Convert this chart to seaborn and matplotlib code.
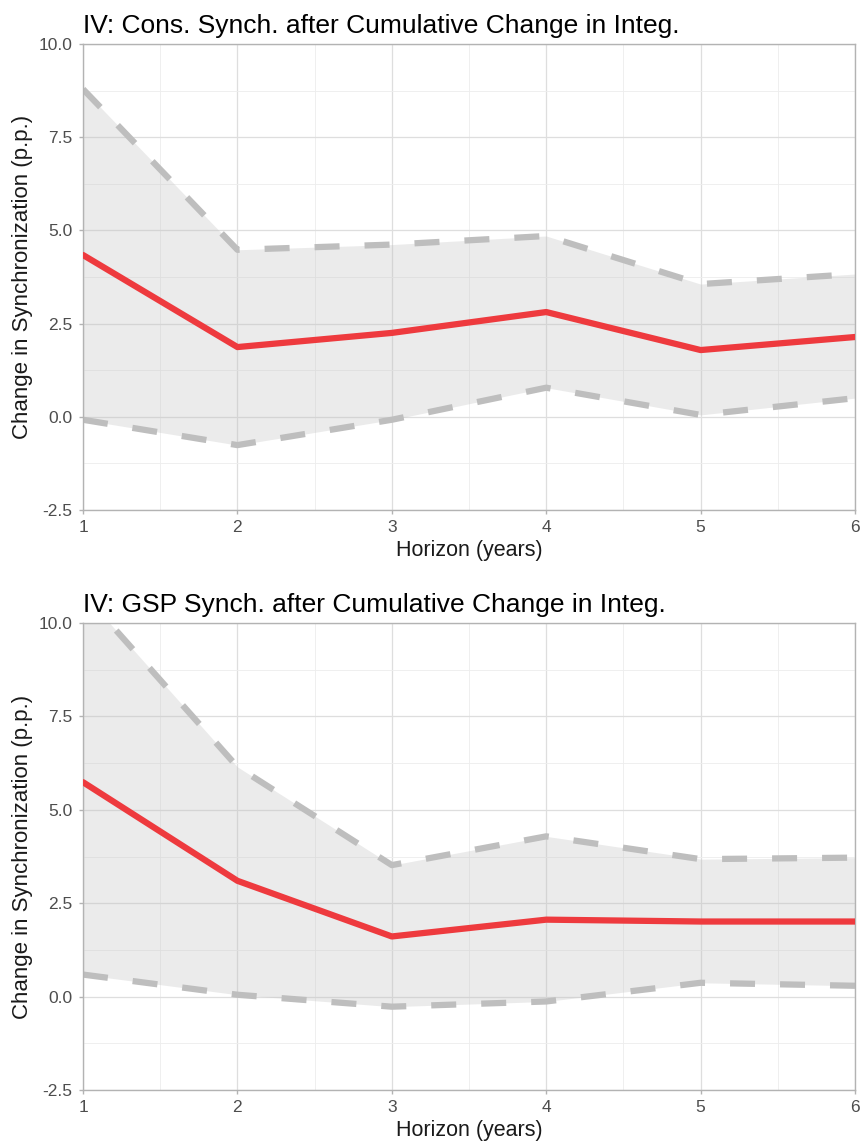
import matplotlib
matplotlib.use("Agg")
import matplotlib.pyplot as plt
import seaborn as sns
import pandas as pd
from matplotlib.ticker import MultipleLocator

# Horizons and IV estimates with confidence bands
horizon = [1, 2, 3, 4, 5, 6]

cons_est = [4.34, 1.87, 2.25, 2.81, 1.79, 2.14]
cons_upper = [8.79, 4.48, 4.62, 4.85, 3.56, 3.83]
cons_lower = [-0.08, -0.76, -0.08, 0.78, 0.05, 0.50]

gsp_est = [5.74, 3.10, 1.61, 2.06, 2.01, 2.01]
gsp_upper = [10.8, 6.15, 3.52, 4.29, 3.68, 3.72]
gsp_lower = [0.59, 0.05, -0.27, -0.13, 0.37, 0.29]

titles = [
    "IV: Cons. Synch. after Cumulative Change in Integ.",
    "IV: GSP Synch. after Cumulative Change in Integ.",
]
y_ticks = [-2.5, 0.0, 2.5, 5.0, 7.5, 10.0]
x_label = "Horizon (years)"
y_label = "Change in Synchronization (p.p.)"

sns.set_theme(style="white")
plt.rcParams["font.family"] = ["Liberation Sans", "DejaVu Sans"]

fig = plt.figure(figsize=(8.64, 11.47), dpi=100)
ax1 = fig.add_axes([0.0961, 0.5554, 0.8935, 0.4062])
ax2 = fig.add_axes([0.0961, 0.0497, 0.8935, 0.4071])

panels = [
    (ax1, cons_est, cons_upper, cons_lower, titles[0]),
    (ax2, gsp_est, gsp_upper, gsp_lower, titles[1]),
]

red = "#EE3A3E"
band_line = "#BEBEBE"

for ax, est, up, lo, title in panels:
    df = pd.DataFrame({"h": horizon, "est": est, "up": up, "lo": lo})
    ax.set_axisbelow(True)
    ax.fill_between(df["h"], df["lo"], df["up"], color="#BEBEBE", alpha=0.3,
                    linewidth=0, zorder=1)
    sns.lineplot(data=df, x="h", y="up", ax=ax, color=band_line, linewidth=4.5,
                 zorder=2)
    sns.lineplot(data=df, x="h", y="lo", ax=ax, color=band_line, linewidth=4.5,
                 zorder=2)
    for ln in ax.lines:
        ln.set_dashes((4, 4))
        ln.set_dash_capstyle("butt")
    sns.lineplot(data=df, x="h", y="est", ax=ax, color=red, linewidth=4.5,
                 zorder=3)

    ax.set_xlim(1, 6)
    ax.set_ylim(-2.5, 10)
    ax.set_xticks(horizon)
    ax.set_xticklabels([str(h) for h in horizon])
    ax.set_yticks(y_ticks)
    ax.set_yticklabels([f"{v:.1f}" for v in y_ticks])
    ax.xaxis.set_minor_locator(MultipleLocator(0.5))
    ax.yaxis.set_minor_locator(MultipleLocator(1.25))

    ax.grid(which="major", color="#DEDEDE", linewidth=0.9)
    ax.grid(which="minor", color="#EDEDED", linewidth=0.6)
    for s in ax.spines.values():
        s.set_color("#B3B3B3")
        s.set_linewidth(1.0)
    ax.tick_params(axis="both", which="major", length=3, width=1.0,
                   color="#B3B3B3", labelcolor="#4D4D4D", labelsize=12.5,
                   pad=4.5, bottom=True, left=True)
    ax.tick_params(which="minor", length=0)

    ax.set_xlabel(x_label, fontsize=15.5, color="#1A1A1A", labelpad=3)
    ax.set_ylabel(y_label, fontsize=16, color="#1A1A1A", labelpad=4)
    ax.set_title(title, loc="left", fontsize=19, color="#000000", pad=8)

fig.savefig("out.png", dpi=100)
